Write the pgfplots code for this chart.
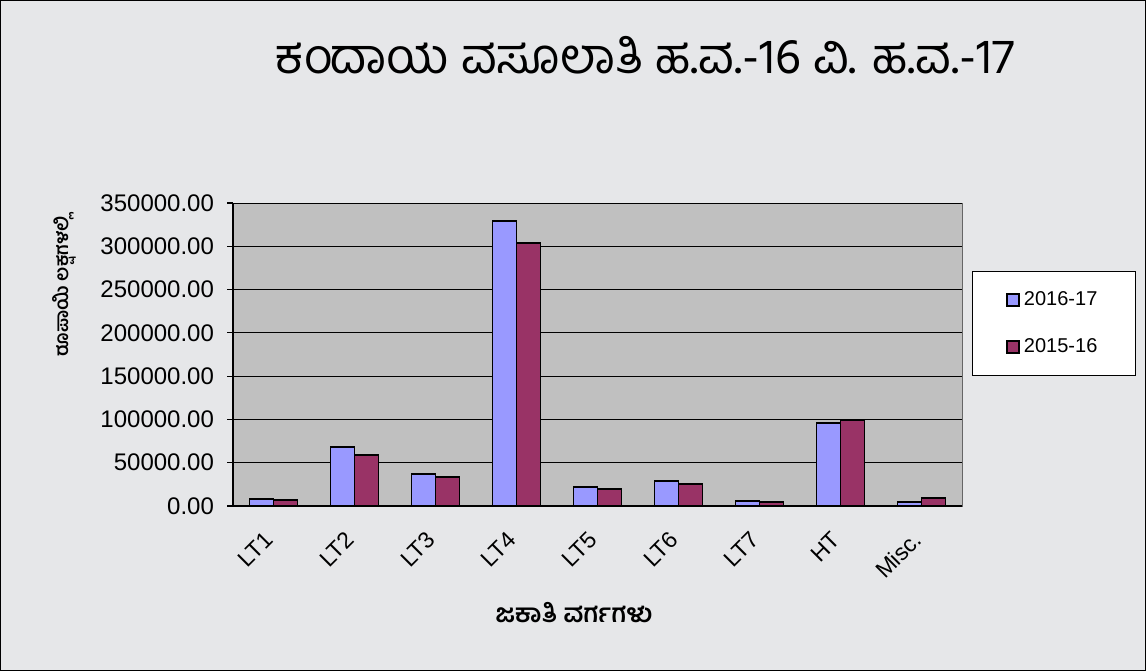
\documentclass[border=0pt]{standalone}
\usepackage{fontspec}
\setmainfont{Liberation Sans}
\newfontfamily\kn[Script=Kannada]{Hind Mysuru}
\usepackage{pgfplots}
\pgfplotsset{compat=1.18}
\definecolor{bgm}{RGB}{230,231,233}
\definecolor{plotbg}{RGB}{192,192,192}
\definecolor{sblue}{RGB}{153,153,255}
\definecolor{sred}{RGB}{153,51,102}
\begin{document}
\begin{tikzpicture}
\fill[bgm] (0,0) rectangle (573pt,335.5pt);
\draw[black, line width=0.6pt] (0.3pt,0.3pt) rectangle (572.7pt,335.2pt);
\node[font=\kn\fontsize{24.5}{28}\selectfont, anchor=center] at (322.5pt,308pt) {ಕಂದಾಯ ವಸೂಲಾತಿ ಹ.ವ.-16 ವಿ. ಹ.ವ.-17};
\node[font=\kn\bfseries\fontsize{12.8}{15}\selectfont, anchor=center] at (287pt,29pt) {ಜಕಾತಿ ವರ್ಗಗಳು};
\node[font=\kn\bfseries\fontsize{9.3}{11}\selectfont, rotate=90, anchor=center] at (32pt,192.5pt) {ರೂಪಾಯಿ ಲಕ್ಷಗಳಲ್ಲಿ};
\begin{axis}[
  at={(116.5pt,82.5pt)}, anchor=south west,
  scale only axis, width=364.5pt, height=151.5pt,
  ybar=0pt, bar width=12pt,
  xmin=-0.5, xmax=8.5, ymin=0, ymax=350000,
  xtick={0,...,8},
  xticklabels={LT1,LT2,LT3,LT4,LT5,LT6,LT7,HT,Misc.},
  minor xtick={-0.5,0.5,...,8.5},
  xtick style={draw=none},
  ytick={0,50000,...,350000},
  major tick length=3pt, minor tick length=3pt,
  tick align=outside,
  axis x line*=bottom, axis y line*=left,
  axis line style={-, black, line width=0.6pt},
  every tick/.style={black, line width=0.6pt},
  minor tick style={black, line width=0.6pt},
  axis background/.style={fill=plotbg, draw=gray!80!black},
  ymajorgrids, grid style={black, line width=0.5pt},
  scaled y ticks=false,
  yticklabel style={font=\fontsize{12}{14}\selectfont, xshift=-3pt},
  yticklabel style={/pgf/number format/.cd, fixed, fixed zerofill, precision=2, 1000 sep={}, assume math mode=true},
  xticklabel style={font=\fontsize{11.5}{13}\selectfont, xshift=-5pt, yshift=-6pt, rotate=45, anchor=north east, inner sep=2pt},
  legend style={at={(1.0137,0.775)}, anchor=north west, draw=black, fill=white,
    font=\fontsize{10}{12}\selectfont, row sep=11pt, inner xsep=17pt, inner ysep=8pt},
  legend cell align=left,
  legend image code/.code={\draw[#1, line width=0.8pt] (0pt,-3pt) rectangle (6pt,3pt);},
  clip=false,
]
\addplot[fill=sblue, draw=black, line width=0.9pt] coordinates {
(0,8100) (1,67800) (2,37300) (3,329500) (4,21900) (5,28900) (6,5800) (7,95900) (8,4300)};
\addplot[fill=sred, draw=black, line width=0.9pt] coordinates {
(0,7300) (1,58900) (2,33500) (3,303800) (4,19300) (5,25800) (6,4600) (7,99000) (8,8900)};
\legend{2016-17,2015-16}
\end{axis}
\end{tikzpicture}
\end{document}
